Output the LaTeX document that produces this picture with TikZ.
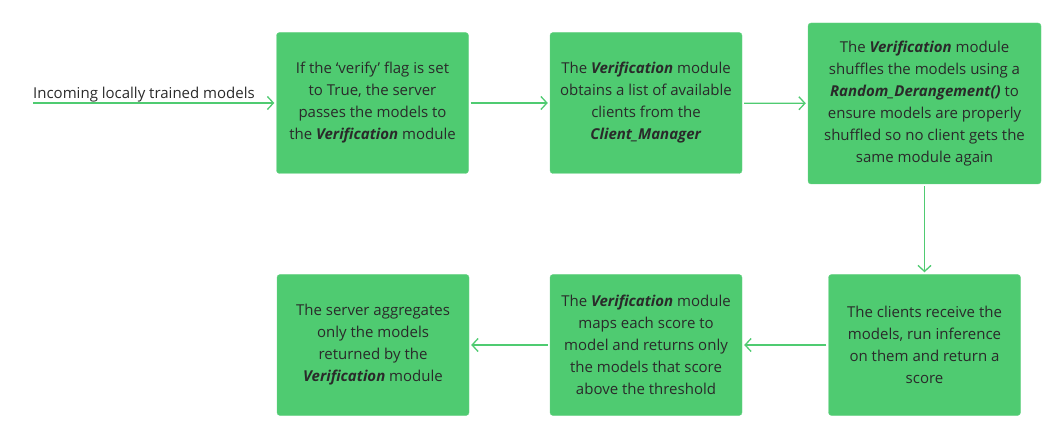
\documentclass[tikz,border=0pt]{standalone}
\usepackage{fontspec}
\usepackage{xcolor}
\setmainfont{Open Sans}
\usetikzlibrary{positioning,arrows.meta}
\definecolor{boxgreen}{HTML}{4FCB71}
\definecolor{txtgray}{HTML}{2A2A2A}

\begin{document}
\begin{tikzpicture}[x=1pt, y=1pt, font=\fontsize{15}{22}\selectfont,
    box/.style={rectangle, rounded corners=3pt, fill=boxgreen, draw=boxgreen!85!white, text=txtgray, align=center, minimum width=192pt, minimum height=141pt, inner sep=0pt},
    flow/.style={draw=boxgreen, line width=1.3pt, shorten <=2pt, shorten >=2pt, -{Straight Barb[length=6pt,width=13pt]}}]
    \useasboundingbox (0,0) rectangle (1059,439);
    % top row
    \node[box] (verify) at (372.5,336) {If the ‘verify’ flag is set\\to True, the server\\passes the models to\\the \textbf{\textit{Verification}} module};
    \node[box] (clients) at (646,336) {The \textbf{\textit{Verification}} module\\obtains a list of available\\clients from the\\\textbf{\textit{Client\_Manager}}};
    \node[box, minimum width=233pt, minimum height=161pt] (shuffle) at (924.5,335.5) {The \textbf{\textit{Verification}} module\\shuffles the models using a\\\textbf{\textit{Random\_Derangement()}} to\\ensure models are properly\\shuffled so no client gets the\\same module again};
    % bottom row
    \node[box] (score) at (924.5,94) {The clients receive the\\models, run inference\\on them and return a\\score};
    \node[box] (filter) at (646,94) {The \textbf{\textit{Verification}} module\\maps each score to\\model and returns only\\the models that score\\above the threshold};
    \node[box] (aggregate) at (373,94) {The server aggregates\\only the models\\returned by the\\\textbf{\textit{Verification}} module};
    % incoming models
    \node[anchor=base west, inner sep=0pt, text=txtgray] (incoming) at (33,340) {Incoming locally trained models};
    \coordinate (in) at (33,336);
    \draw[flow, shorten <=0pt] (in) -- (verify);
    \draw[flow] (verify) -- (clients);
    \draw[flow] (clients) -- (shuffle);
    \draw[flow] (shuffle) -- (score);
    \draw[flow] (score) -- (filter);
    \draw[flow] (filter) -- (aggregate);
\end{tikzpicture}
\end{document}
